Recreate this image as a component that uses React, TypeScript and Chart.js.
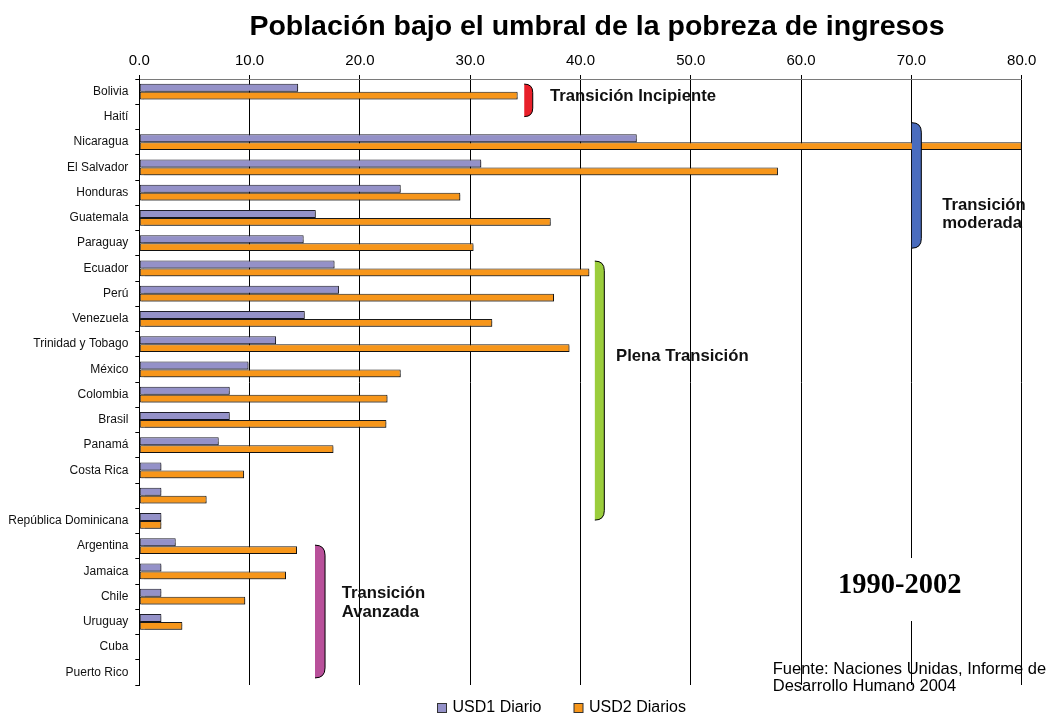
import React, { useEffect, useRef } from 'react';
import { Chart, registerables } from 'chart.js';

Chart.register(...registerables);

const chartTitle = 'Población bajo el umbral de la pobreza de ingresos';

const countries = [
  'Bolivia', 'Haití', 'Nicaragua', 'El Salvador', 'Honduras', 'Guatemala', 'Paraguay',
  'Ecuador', 'Perú', 'Venezuela', 'Trinidad y Tobago', 'México', 'Colombia', 'Brasil',
  'Panamá', 'Costa Rica', '', 'República Dominicana', 'Argentina', 'Jamaica', 'Chile',
  'Uruguay', 'Cuba', 'Puerto Rico',
];

const usd1Diario = [
  14.4, null, 45.1, 31.0, 23.7, 16.0, 14.9,
  17.7, 18.1, 15.0, 12.4, 9.9, 8.2, 8.2,
  7.2, 2.0, 2.0, 2.0, 3.3, 2.0, 2.0,
  2.0, null, null,
];

const usd2Diarios = [
  34.3, null, 80.0, 57.9, 29.1, 37.3, 30.3,
  40.8, 37.6, 32.0, 39.0, 23.7, 22.5, 22.4,
  17.6, 9.5, 6.1, 2.0, 14.3, 13.3, 9.6,
  3.9, null, null,
];

const seriesNames = ['USD1 Diario', 'USD2 Diarios'];
const seriesColors = ['#9491c8', '#f7961a'];

const xMin = 0;
const xMax = 80;
const xStep = 10;

// Group annotations (x in data units, y in category-index units)
const groupNames = [['Transición Incipiente'], ['Transición', 'moderada'], ['Plena Transición'], ['Transición', 'Avanzada']];
const groupColors = ['#e8202a', '#4a6cbe', '#9bcd3c', '#b8509a'];
const groupBracketX = [[34.9, 35.67], [70.04, 70.9], [41.3, 42.16], [15.93, 16.84]];
const groupBracketIdx = [[-0.3, 0.99], [1.23, 6.2], [6.71, 16.97], [17.96, 23.22]];
const groupTextX = [37.24, 72.8, 43.22, 18.35];
const groupTextIdx = [[0.17], [4.49, 5.2], [10.47], [19.86, 20.61]];

const periodLabel = '1990-2002';
const periodX = 63.35;
const periodIdx = 19.58;

const sourceLines = ['Fuente: Naciones Unidas, Informe de', 'Desarrollo Humano 2004'];
const sourceX = 57.43;
const sourceIdx = [22.87, 23.54];

const FONT = "'Liberation Sans', Arial, Helvetica, sans-serif";

export default function App() {
  const ref = useRef<HTMLCanvasElement>(null);

  useEffect(() => {
    const canvas = ref.current;
    if (!canvas) return;

    const overlay = {
      id: 'overlay',
      beforeDraw(chart: any) {
        const { ctx } = chart;
        const xs = chart.scales.x;
        const ys = chart.scales.y;
        ctx.save();
        ctx.fillStyle = '#000';
        ctx.font = `bold 28.5px ${FONT}`;
        ctx.textAlign = 'center';
        ctx.textBaseline = 'alphabetic';
        ctx.fillText(chartTitle, 597, 35);

        ctx.font = `16.5px ${FONT}`;
        ctx.textAlign = 'left';
        ctx.textBaseline = 'middle';
        sourceLines.forEach((l, k) => {
          ctx.fillText(l, xs.getPixelForValue(sourceX), ys.getPixelForValue(sourceIdx[k]));
        });
        ctx.restore();
      },
      beforeDatasetsDraw(chart: any) {
        const { ctx } = chart;
        ctx.save();
        ctx.shadowColor = 'rgba(0,0,0,0.35)';
        ctx.shadowOffsetX = 1.5;
        ctx.shadowOffsetY = 1.5;
        ctx.shadowBlur = 1;
      },
      afterDatasetsDraw(chart: any) {
        chart.ctx.restore();
      },
      afterDraw(chart: any) {
        const { ctx } = chart;
        const xs = chart.scales.x;
        const ys = chart.scales.y;
        ctx.save();

        // brackets
        groupColors.forEach((c, g) => {
          const x0 = xs.getPixelForValue(groupBracketX[g][0]);
          const x1 = xs.getPixelForValue(groupBracketX[g][1]);
          const y0 = ys.getPixelForValue(groupBracketIdx[g][0]);
          const y1 = ys.getPixelForValue(groupBracketIdx[g][1]);
          const r = Math.min(x1 - x0, (y1 - y0) / 2);
          ctx.beginPath();
          ctx.moveTo(x0, y0);
          ctx.quadraticCurveTo(x1, y0, x1, y0 + r);
          ctx.lineTo(x1, y1 - r);
          ctx.quadraticCurveTo(x1, y1, x0, y1);
          ctx.closePath();
          ctx.fillStyle = c;
          ctx.fill();
          ctx.beginPath();
          ctx.moveTo(x0, y0);
          ctx.quadraticCurveTo(x1, y0, x1, y0 + r);
          ctx.lineTo(x1, y1 - r);
          ctx.quadraticCurveTo(x1, y1, x0, y1);
          ctx.strokeStyle = '#000';
          ctx.lineWidth = 1;
          ctx.stroke();
        });

        // group labels
        ctx.fillStyle = '#111';
        ctx.font = `bold 16.7px ${FONT}`;
        ctx.textAlign = 'left';
        ctx.textBaseline = 'middle';
        groupNames.forEach((lines, g) => {
          lines.forEach((l, k) => {
            ctx.fillText(l, xs.getPixelForValue(groupTextX[g]), ys.getPixelForValue(groupTextIdx[g][k]));
          });
        });

        // period label with white box
        const px = xs.getPixelForValue(periodX);
        const py = ys.getPixelForValue(periodIdx);
        ctx.fillStyle = '#fff';
        ctx.fillRect(px - 15, py - 28, 150, 63);
        ctx.fillStyle = '#000';
        ctx.font = `bold 28.5px 'Liberation Serif', 'Times New Roman', serif`;
        ctx.textBaseline = 'middle';
        ctx.fillText(periodLabel, px, py);

        // legend
        const legendBoxX = [437, 573.5];
        const legendY = 708;
        ctx.font = `16px ${FONT}`;
        ctx.textBaseline = 'middle';
        seriesNames.forEach((n, k) => {
          ctx.fillStyle = seriesColors[k];
          ctx.fillRect(legendBoxX[k] + 0.5, legendY - 4.5, 9, 9);
          ctx.strokeStyle = '#333';
          ctx.lineWidth = 1;
          ctx.strokeRect(legendBoxX[k] + 0.5, legendY - 4.5, 9, 9);
          ctx.fillStyle = '#000';
          ctx.fillText(n, legendBoxX[k] + 15.5, legendY);
        });

        ctx.restore();
      },
    };

    const chart = new Chart(canvas, {
      type: 'bar',
      data: {
        labels: countries,
        datasets: [
          {
            label: seriesNames[0],
            data: usd1Diario as any,
            backgroundColor: seriesColors[0],
            borderColor: '#1e1e2a',
            borderWidth: 1,
            borderSkipped: false,
          },
          {
            label: seriesNames[1],
            data: usd2Diarios as any,
            backgroundColor: seriesColors[1],
            borderColor: '#1a1a1a',
            borderWidth: 1,
            borderSkipped: false,
          },
        ],
      },
      options: {
        indexAxis: 'y',
        responsive: false,
        animation: false,
        devicePixelRatio: 1,
        layout: { padding: { left: 0, top: 0, right: 26.3, bottom: 30 } },
        datasets: {
          bar: { categoryPercentage: 0.62, barPercentage: 1.0 },
        },
        plugins: {
          legend: { display: false },
          title: { display: false },
          tooltip: { enabled: false },
        },
        scales: {
          x: {
            position: 'top',
            min: xMin,
            max: xMax,
            ticks: {
              stepSize: xStep,
              color: '#000',
              font: { family: FONT, size: 15 },
              padding: 5,
              callback: (v: any) => Number(v).toFixed(1),
            },
            grid: { color: '#000', lineWidth: 1, tickLength: 4, drawTicks: true },
            border: { color: '#7a7a7a', width: 1 },
            afterFit: (s: any) => { s.height = 79; },
          },
          y: {
            ticks: {
              color: '#111',
              font: { family: FONT, size: 12 },
              padding: 7,
              autoSkip: false,
            },
            grid: { color: '#000', drawOnChartArea: false, tickLength: 4, offset: true },
            border: { color: '#000', width: 1 },
            afterFit: (s: any) => { s.width = 139.3; },
          },
        },
      },
      plugins: [overlay],
    } as any);

    return () => chart.destroy();
  }, []);

  return (
    <div style={{ position: 'absolute', left: 0, top: 0, width: 1048, height: 715, background: '#fff' }}>
      <canvas ref={ref} width={1048} height={715} style={{ display: 'block', width: 1048, height: 715 }} />
    </div>
  );
}
